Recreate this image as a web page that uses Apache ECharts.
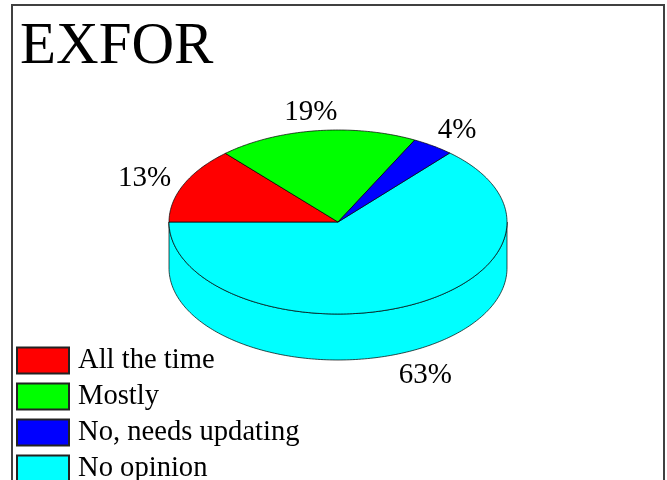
<!DOCTYPE html>
<html>
<head>
<meta charset="utf-8">
<style>html,body{margin:0;padding:0;background:#fff;overflow:hidden}#c{width:667px;height:480px}</style>
<script src="https://cdn.jsdelivr.net/npm/echarts@6/dist/echarts.min.js"></script>
</head>
<body>
<div id="c"></div>
<script>
var chartTitle = 'EXFOR';
var categories = ['All the time', 'Mostly', 'No, needs updating', 'No opinion'];
var values = [13.4, 19.1, 4, 63.5];
var labels = ['13%', '19%', '4%', '63%'];
var colors = ['#ff0000', '#00ff00', '#0000ff', '#00ffff'];

var FONT = '"Liberation Serif","Times New Roman",serif';
var CX = 338, CY = 222, RX = 169, RY = 92, DEPTH = 46;
var LRX = 212, LRY = 114, LCY = 225;
var total = values.reduce(function (a, b) { return a + b; }, 0);

function pt(deg, dy) {
  var a = deg * Math.PI / 180;
  return [CX - RX * Math.cos(a), CY - RY * Math.sin(a) + (dy || 0)];
}
function arc(from, to, dy) {
  var out = [], n = Math.max(2, Math.ceil(Math.abs(to - from)));
  for (var i = 0; i <= n; i++) out.push(pt(from + (to - from) * i / n, dy));
  return out;
}
function renderSlice(index) {
  return function () {
    var before = 0;
    for (var i = 0; i < index; i++) before += values[i];
    var from = before / total * 360;
    var to = (before + values[index]) / total * 360;
    var mid = (from + to) / 2;
    var children = [];
    var style = { fill: colors[index], stroke: '#000', lineWidth: 0.7 };
    var s = Math.max(from, 180), e = Math.min(to, 360);
    if (e > s) {
      children.push({
        type: 'polygon',
        shape: { points: arc(s, e, 0).concat(arc(e, s, DEPTH)) },
        style: style
      });
    }
    children.push({
      type: 'polygon',
      shape: { points: [[CX, CY]].concat(arc(from, to, 0)) },
      style: style
    });
    var m = mid * Math.PI / 180;
    var sinM = Math.sin(m);
    children.push({
      type: 'text',
      style: {
        text: labels[index],
        x: CX - LRX * Math.cos(m),
        y: LCY - LRY * sinM + (sinM < 0 ? DEPTH : 0),
        font: '29px ' + FONT,
        fill: '#000',
        align: 'center',
        verticalAlign: 'middle'
      }
    });
    return { type: 'group', children: children };
  };
}

var series = categories.map(function (name, i) {
  return {
    type: 'custom',
    name: name,
    coordinateSystem: 'none',
    silent: true,
    animation: false,
    z: i === 3 ? 1 : 2,
    itemStyle: { color: colors[i], borderColor: '#222', borderWidth: 1 },
    data: [values[i]],
    renderItem: renderSlice(i)
  };
});

var chart = echarts.init(document.getElementById('c'), null, { renderer: 'canvas' });
chart.setOption({
  animation: false,
  backgroundColor: '#fff',
  title: {
    text: chartTitle,
    left: 20,
    top: 18,
    padding: 0,
    textStyle: { fontFamily: FONT, fontSize: 59, fontWeight: 'normal', color: '#000' }
  },
  legend: {
    orient: 'vertical',
    left: 16,
    top: 346,
    height: 300,
    padding: 0,
    icon: 'rect',
    itemWidth: 52,
    itemHeight: 26,
    itemGap: 7,
    selectedMode: false,
    textStyle: { fontFamily: FONT, fontSize: 28.6, color: '#000', padding: [0, 0, 0, 4] },
    data: categories
  },
  graphic: [{
    type: 'rect',
    silent: true,
    shape: { x: 12, y: 5, width: 652, height: 490 },
    style: { fill: 'none', stroke: '#404040', lineWidth: 2 }
  }],
  series: series
});
</script>
</body>
</html>
